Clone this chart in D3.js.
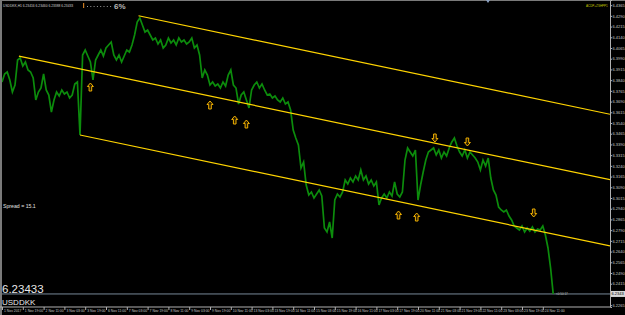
<!DOCTYPE html>
<html>
<head>
<meta charset="utf-8">
<script src="https://cdn.jsdelivr.net/npm/d3@7"></script>
<style>
  html, body { margin: 0; padding: 0; background: #000; overflow: hidden; }
  svg { display: block; }
  text { font-family: "Liberation Sans", Arial, sans-serif; }
</style>
</head>
<body>
<svg id="chart"></svg>
<script>
// hourly closes, one value every 2 bars (H1, from 1 Nov 03:00)
const closes = [
  6.3827, 6.3883, 6.3897, 6.3841, 6.3757, 6.3806, 6.3981, 6.3995, 6.3939, 6.3967,
  6.3911, 6.3897, 6.3855, 6.3701, 6.3757, 6.3785, 6.3883, 6.3771, 6.3736, 6.3617,
  6.3701, 6.3757, 6.3729, 6.3771, 6.3743, 6.3757, 6.3715, 6.3736, 6.3813, 6.3827,
  6.3456,
  6.4016, 6.4051, 6.4009, 6.3967, 6.3841, 6.3981, 6.4016, 6.4051, 6.4009, 6.4065,
  6.4086, 6.4107, 6.4016, 6.3981, 6.4016, 6.3967, 6.4009, 6.4051, 6.4037, 6.4086,
  6.4156, 6.4247, 6.4275,
  6.4226, 6.4177, 6.4191, 6.4156, 6.4121, 6.4135, 6.4093, 6.4121, 6.4065, 6.4086,
  6.4135, 6.4100, 6.4121, 6.4086, 6.4135, 6.4107, 6.4121, 6.4093, 6.4107, 6.4135,
  6.4065, 6.4086, 6.4016,
  6.3855, 6.3911, 6.3876, 6.3806, 6.3827, 6.3799, 6.3813, 6.3785, 6.3827, 6.3799,
  6.3876, 6.3911, 6.3806, 6.3785, 6.3673, 6.3736, 6.3757, 6.3701, 6.3645, 6.3771,
  6.3806, 6.3827, 6.3785, 6.3813, 6.3771, 6.3736, 6.3743, 6.3715, 6.3729, 6.3701,
  6.3687, 6.3715, 6.3673, 6.3687, 6.3631,
  6.3491, 6.3435, 6.3386, 6.3225, 6.3267, 6.3106, 6.3036, 6.3057, 6.3015, 6.3043,
  6.3071, 6.3029, 6.2805, 6.2777, 6.2847, 6.2735, 6.3001, 6.3043, 6.3022, 6.3057,
  6.3141, 6.3113, 6.3155, 6.3127, 6.3169, 6.3141, 6.3211, 6.3141, 6.3169, 6.3113,
  6.3141, 6.3099, 6.3127, 6.2966, 6.3015, 6.3043, 6.3015, 6.3057, 6.3029, 6.3127,
  6.3043, 6.3022, 6.3057, 6.3281, 6.3365, 6.3337, 6.3309, 6.3351, 6.3001, 6.3106,
  6.3197, 6.3281, 6.3337, 6.3351, 6.3365, 6.3316, 6.3351, 6.3295, 6.3337, 6.3309,
  6.3365, 6.3407, 6.3435, 6.3379, 6.3337, 6.3309, 6.3351, 6.3295, 6.3337, 6.3316,
  6.3295, 6.3267, 6.3211, 6.3281, 6.3239, 6.3295, 6.3155,
  6.3071, 6.3036, 6.2952, 6.2931, 6.2917, 6.2931, 6.2889, 6.2861, 6.2819, 6.2805,
  6.2791, 6.2819, 6.2777, 6.2805, 6.2784, 6.2812, 6.2777, 6.2798, 6.2791, 6.2819,
  6.2756, 6.2665, 6.2525, 6.23433
];

const dateLabels = [
  "1 Nov 2017", "1 Nov 19:00", "2 Nov 11:00", "3 Nov 03:00", "3 Nov 19:00",
  "6 Nov 11:00", "7 Nov 03:00", "7 Nov 19:00", "8 Nov 11:00", "9 Nov 03:00",
  "9 Nov 19:00", "10 Nov 11:00", "13 Nov 03:00", "13 Nov 19:00", "14 Nov 11:00",
  "15 Nov 03:00", "15 Nov 19:00", "16 Nov 11:00", "17 Nov 03:00", "17 Nov 19:00",
  "20 Nov 11:00", "21 Nov 03:00", "21 Nov 19:00", "22 Nov 11:00", "23 Nov 03:00",
  "23 Nov 19:00", "24 Nov 11:00"
];

const priceTicks = [
  6.4365, 6.4290, 6.4215, 6.4140, 6.4065, 6.3990, 6.3915, 6.3840, 6.3765, 6.3690,
  6.3615, 6.3540, 6.3465, 6.3390, 6.3315, 6.3240, 6.3165, 6.3090, 6.3015, 6.2940,
  6.2865, 6.2790, 6.2715, 6.2640, 6.2565, 6.2490, 6.2415, 6.2265
];

const lastPrice = 6.23433;

// [bar, price]
const upArrows = [[68, 6.3792], [160, 6.3666], [179, 6.3561], [188, 6.3533], [305, 6.2896], [319, 6.2882]];
const downArrows = [[333, 6.3435], [358, 6.3407], [409, 6.2910]];

// channel rays: start point and a second point, [bar, price]
const channelUpper = [[105, 6.4291], [330, 6.3863]];
const channelMiddle = [[13, 6.4008], [330, 6.3405]];
const channelLower = [[60, 6.3456], [330, 6.2942]];

const W = 625, H = 315;
const plotR = 610, plotB = 307;

const svg = d3.select("#chart").attr("width", W).attr("height", H);

svg.append("rect").attr("width", W).attr("height", H).attr("fill", "#000");

const x = d3.scaleLinear().domain([0, 416]).range([2, 542.8]);
const y = d3.scaleLinear().domain([6.2252, 6.4401]).range([plotB, 0]);

svg.append("clipPath").attr("id", "plot")
  .append("rect").attr("x", 0).attr("y", 0).attr("width", plotR).attr("height", plotB);

const plot = svg.append("g").attr("clip-path", "url(#plot)");

// bid line
plot.append("line")
  .attr("x1", 0).attr("x2", plotR)
  .attr("y1", y(lastPrice)).attr("y2", y(lastPrice))
  .attr("stroke", "#778899").attr("stroke-width", 1);

// price
const line = d3.line().x((d, i) => x(i * 2)).y(d => y(d));
plot.append("path")
  .datum(closes)
  .attr("d", line)
  .attr("fill", "none")
  .attr("stroke", "#0c8c0c")
  .attr("stroke-width", 1.7);

// channel
const slopeOf = c => (c[1][1] - c[0][1]) / (c[1][0] - c[0][0]);
const endBar = x.invert(plotR);
[channelUpper, channelMiddle, channelLower].forEach(c => {
  const k = slopeOf(c);
  plot.append("line")
    .attr("x1", x(c[0][0])).attr("y1", y(c[0][1]))
    .attr("x2", x(endBar)).attr("y2", y(c[0][1] + k * (endBar - c[0][0])))
    .attr("stroke", "#ffd400")
    .attr("stroke-width", 1.2);
});

// arrows
const upPath = "M0,-4 L3,-0.5 L1.3,-0.5 L1.3,4 L-1.3,4 L-1.3,-0.5 L-3,-0.5 Z";
plot.selectAll(".up").data(upArrows).enter().append("path")
  .attr("d", upPath)
  .attr("transform", d => `translate(${x(d[0])},${y(d[1])})`)
  .attr("fill", "#2a1c00").attr("stroke", "#f0b000").attr("stroke-width", 1);
plot.selectAll(".dn").data(downArrows).enter().append("path")
  .attr("d", upPath)
  .attr("transform", d => `translate(${x(d[0])},${y(d[1])}) rotate(180)`)
  .attr("fill", "#2a1c00").attr("stroke", "#f0b000").attr("stroke-width", 1);

// frame
svg.append("rect").attr("x", 0).attr("y", 0).attr("width", 2).attr("height", H).attr("fill", "#7a7a7a");
svg.append("rect").attr("x", 0).attr("y", 0).attr("width", W).attr("height", 1).attr("fill", "#7a7a7a");

// right axis
const yAxis = svg.append("g")
  .attr("transform", `translate(${plotR},0)`)
  .call(d3.axisRight(y).tickValues(priceTicks).tickSize(2).tickPadding(0.5).tickFormat(d3.format(".4f")));
yAxis.attr("font-family", null).attr("font-size", null);
yAxis.select(".domain").attr("stroke", "#b0b0b0");
yAxis.selectAll(".tick line").attr("stroke", "#b0b0b0");
yAxis.selectAll(".tick text")
  .attr("fill", "#c8c8c8").attr("font-size", 4);

// bottom axis
const xAxis = svg.append("g")
  .attr("transform", `translate(0,${plotB})`)
  .call(d3.axisBottom(x).tickValues(dateLabels.map((d, i) => i * 16)).tickSize(3).tickFormat((d, i) => dateLabels[i]));
xAxis.attr("font-family", null).attr("font-size", null);
xAxis.select(".domain").attr("stroke", "#b0b0b0").attr("d", `M0,0H${plotR}`);
xAxis.selectAll(".tick line").attr("stroke", "#b0b0b0");
xAxis.selectAll(".tick text")
  .attr("fill", "#c8c8c8").attr("font-size", 3.4)
  .attr("text-anchor", "start").attr("x", 1.5).attr("y", 2.5)
  .attr("dy", "0.71em");

// current price tag on axis
svg.append("rect")
  .attr("x", plotR + 1).attr("y", y(lastPrice) - 3).attr("width", 14).attr("height", 6)
  .attr("fill", "#d8d8d8");
svg.append("text")
  .attr("x", plotR + 1.5).attr("y", y(lastPrice) + 1.5)
  .attr("font-size", 4).attr("fill", "#000")
  .text(d3.format(".4f")(lastPrice));

// texts
svg.append("text").attr("x", 3).attr("y", 6.5).attr("font-size", 3.3).attr("fill", "#d0d0d0")
  .text("USDDKK,H1  6.23416 6.23460 6.23388 6.23433");

svg.append("rect").attr("x", 83).attr("y", 3).attr("width", 1.2).attr("height", 5).attr("fill", "#c87a20");
svg.selectAll(".dot").data(d3.range(8)).enter().append("rect")
  .attr("x", (d, i) => 87 + i * 3.3).attr("y", 6).attr("width", 1).attr("height", 1).attr("fill", "#9a9a9a");
svg.append("text").attr("x", 114).attr("y", 9).attr("font-size", 8).attr("font-weight", "bold")
  .attr("fill", "#b8b8b8").text("6%");

svg.append("text").attr("x", 586).attr("y", 6.5).attr("font-size", 3).attr("fill", "#c8c800")
  .text("ACDP+ZSHPP1");

svg.append("text").attr("x", 3).attr("y", 208).attr("font-size", 5.2).attr("fill", "#e0e0e0")
  .text("Spread = 15.1");

svg.append("text").attr("x", 2).attr("y", y(lastPrice) - 0.5).attr("font-size", 11.5)
  .attr("fill", "#e8e8e8")
  .text("6.23433");
svg.append("text").attr("x", 2).attr("y", 304.5).attr("font-size", 8)
  .attr("fill", "#e8e8e8")
  .text("USDDKK");

svg.append("text").attr("x", 556).attr("y", y(lastPrice) + 1.5).attr("font-size", 3).attr("fill", "#bbbbbb")
  .text("<0:50:17");

// chart shift marker
svg.append("path").attr("d", "M486,0 L490,0 L488,3 Z").attr("fill", "#8aa0c0");
</script>
</body>
</html>
